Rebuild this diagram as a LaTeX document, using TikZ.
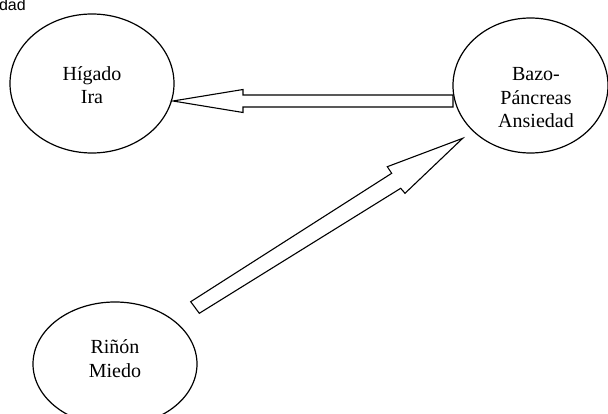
\documentclass[tikz,border=0pt]{standalone}
\usepackage{fontspec}
\setmainfont{Liberation Serif}
\newfontfamily\sansfam{Liberation Sans}
\usetikzlibrary{shapes.geometric}
\begin{document}
\begin{tikzpicture}[x=1pt,y=-1pt,
  organ/.style={draw, ellipse, line width=1.2pt, inner sep=0pt},
  lbl/.style={align=center, font=\fontsize{20}{23.5}\selectfont, inner sep=0pt},
  blockarrow/.style={draw, line width=1.1pt, line join=miter, fill=white}]
\clip (0,0) rectangle (608,414);
\fill[white] (0,0) rectangle (608,414);
\node[organ, minimum width=164pt, minimum height=139pt] (higado) at (92,83.5) {};
\node[organ, minimum width=155pt, minimum height=135pt] (bazo) at (530.5,85.5) {};
\node[organ, minimum width=164pt, minimum height=124pt] (rinon) at (115,364) {};
\node[lbl, anchor=base] (thigado) at (92,104) {Hígado\\Ira};
\node[lbl, anchor=base] (tbazo) at (536,128) {Bazo-\\Páncreas\\Ansiedad};
\node[lbl, anchor=base] (trinon) at (115,377) {Riñón\\Miedo};
\node[font=\sansfam\fontsize{16}{19}\selectfont, anchor=base east, inner sep=0pt] (corner) at (26,11) {Ansiedad};
% block arrow: Bazo-Pancreas -> Higado
\coordinate (a1tip) at (173,101);
\coordinate (a1tail) at (453,101);
\draw[blockarrow] (a1tip) -- (243,89.5) -- (243,95) -- (a1tail |- 0,95) -- (a1tail |- 0,107) -- (243,107) -- (243,112.5) -- cycle;
% block arrow: Rinon -> Bazo-Pancreas
\coordinate (a2tip) at (462.7,138.3);
\draw[blockarrow] (a2tip) -- (387.3,166.7) -- (391.7,173.3) -- (190.7,301.7) -- (199.3,313.3) -- (400.7,188.3) -- (405,193.3) -- cycle;
\end{tikzpicture}
\end{document}
